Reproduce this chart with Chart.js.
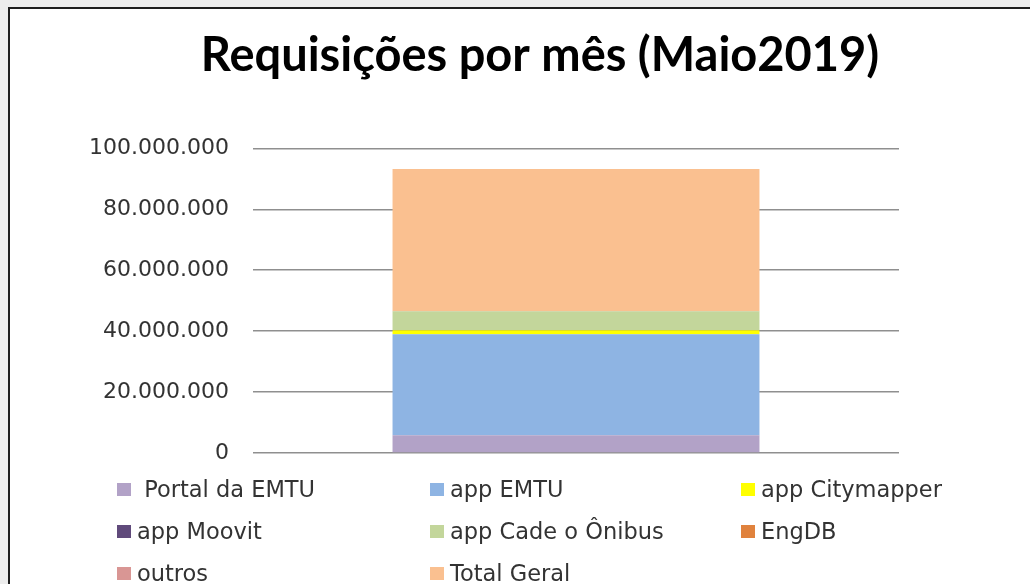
<!DOCTYPE html>
<html>
<head>
<meta charset="utf-8">
<script src="https://cdn.jsdelivr.net/npm/chart.js@4.4.1/dist/chart.umd.min.js"></script>
<style>
    body { margin: 0; background: #ededed; width: 1030px; height: 584px; overflow: hidden; position: relative; }
    #frame { position: absolute; left: 8px; top: 7px; width: 1100px; height: 700px; background: #fff; border: 2px solid #1e1e1e; }
    #chart { position: absolute; left: 0; top: 0; }
    .legend-item { position: absolute; height: 24px; display: flex; align-items: center; white-space: pre;
        font-family: "DejaVu Sans", sans-serif; font-size: 22.5px; color: #333; }
    .legend-box { width: 14px; height: 13px; margin-right: 6px; }
</style>
</head>
<body>
<div id="frame"></div>
<canvas id="chart" width="1030" height="584"></canvas>
<div id="legend"></div>
<script>
// categories and series
const categories = ['Maio2019'];
const seriesNames = [' Portal da EMTU', 'app EMTU', 'app Citymapper', 'app Moovit', 'app Cade o Ônibus', 'EngDB', 'outros', 'Total Geral'];
const seriesValues = [5800000, 33200000, 1300000, 100000, 6100000, 50000, 50000, 46600000];
const seriesColors = ['#b2a2c7', '#8eb4e3', '#ffff00', '#604a7b', '#c3d69b', '#e0823d', '#d99694', '#fac090'];
const yTicks = [0, 20000000, 40000000, 60000000, 80000000, 100000000];

// legend is laid out in 3 columns like the original
const legendCols = [117, 430, 741];
const legendRows = [489, 531, 573];

function formatNumber(v) {
    return String(v).replace(/\B(?=(\d{3})+(?!\d))/g, '.');
}

const ctx = document.getElementById('chart').getContext('2d');

const chart = new Chart(ctx, {
    type: 'bar',
    data: {
        labels: categories,
        datasets: seriesNames.map((name, i) => ({
            label: name,
            data: [seriesValues[i]],
            backgroundColor: seriesColors[i],
            borderWidth: 0,
            categoryPercentage: 1,
            barPercentage: 0.568,
        })),
    },
    options: {
        responsive: false,
        animation: false,
        layout: {
            padding: { left: 50, right: 0, top: 0, bottom: 131 },
        },
        plugins: {
            legend: { display: false },
            tooltip: { enabled: false },
            title: {
                display: true,
                text: 'Requisições por mês (Maio2019)',
                color: '#000',
                font: { family: 'Lato', size: 47, weight: 'bold' },
                padding: { top: 28, bottom: 64 },
            },
        },
        scales: {
            x: {
                stacked: true,
                display: false,
            },
            y: {
                stacked: true,
                min: 0,
                max: 100000000,
                afterBuildTicks: (scale) => {
                    scale.ticks = yTicks.map(v => ({ value: v }));
                },
                afterFit: (scale) => {
                    scale.width = 203;
                },
                grid: { color: '#8f8f8f', lineWidth: 1.5, drawTicks: false },
                border: { display: false },
                ticks: {
                    color: '#333',
                    padding: 24,
                    font: { family: 'DejaVu Sans', size: 22 },
                    callback: (value) => formatNumber(value),
                },
            },
            // empty axis on the right, only to keep the plot area narrow
            yRight: {
                position: 'right',
                grid: { display: false },
                border: { display: false },
                ticks: { display: false },
                afterFit: (scale) => {
                    scale.width = 131;
                },
            },
        },
    },
});

// Build the html legend from the chart's datasets
const legendEl = document.getElementById('legend');
chart.data.datasets.forEach((ds, i) => {
    const item = document.createElement('div');
    item.className = 'legend-item';
    item.style.left = legendCols[i % 3] + 'px';
    item.style.top = (legendRows[Math.floor(i / 3)] - 12) + 'px';
    const box = document.createElement('span');
    box.className = 'legend-box';
    box.style.background = ds.backgroundColor;
    const text = document.createElement('span');
    text.textContent = ds.label;
    item.appendChild(box);
    item.appendChild(text);
    legendEl.appendChild(item);
});
</script>
</body>
</html>
